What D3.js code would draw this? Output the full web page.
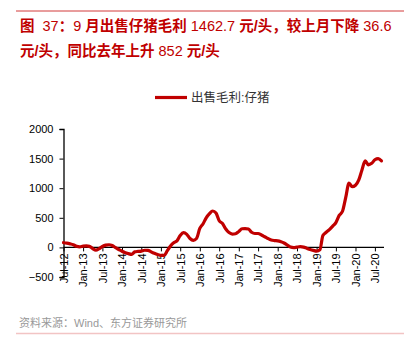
<!DOCTYPE html>
<html>
<head>
<meta charset="utf-8">
<script src="https://cdn.jsdelivr.net/npm/d3@7"></script>
<style>
  html, body { margin: 0; padding: 0; background: #fff; }
  svg { display: block; }
  .title { white-space: pre; }
</style>
</head>
<body>
<svg id="chart" width="411" height="350"></svg>
<script>
// Monthly gross profit per piglet sold (元/头), Jul-2012 .. Sep-2020
const startYear = 2012, startMonth = 6; // July (0-based)
const profit = [
  79, 72, 60, 45, 18, 10, 22, 25, 18, -20, -45, -20,
  15, 38, 45, 32, -5, -35, -65, -90, -105, -118, -75, -68,
  -62, -48, -50, -75, -100, -120, -135, -135, -60, 25, 80, 110,
  200, 250, 220, 150, 120, 150, 320, 400, 500, 570, 615, 580,
  450, 405, 310, 250, 225, 230, 270, 315, 318, 310, 255, 235,
  235, 210, 180, 150, 125, 115, 110, 95, 75, 40, 5, -5,
  5, 12, 5, -15, -35, -50, -62, -40, 200, 255, 300, 360,
  420, 540, 610.7, 840, 1085, 1025, 1050, 1140, 1305, 1460, 1395, 1420,
  1480, 1499.3, 1462.7
];
const yTicks = [-500, 0, 500, 1000, 1500, 2000];
const monthNames = ["Jan","Feb","Mar","Apr","May","Jun","Jul","Aug","Sep","Oct","Nov","Dec"];
const seriesName = "出售毛利:仔猪";
const titleLines = [
  "图  37：9 月出售仔猪毛利 1462.7 元/头，较上月下降 36.6",
  "元/头，同比去年上升 852 元/头"
];
const sourceText = "资料来源：Wind、东方证券研究所";

const dates = profit.map((_, i) => new Date(startYear, startMonth + i, 1));
const data = profit.map((v, i) => ({ date: dates[i], value: v }));

const svg = d3.select("#chart");
const red = "#c00000";
const fontLatin = "'Liberation Sans', Arial, 'Noto Sans CJK SC', sans-serif";
const fontCJK = "'Liberation Sans', 'Noto Sans CJK SC', sans-serif";

// Header rule and title (CJK runs bold, numeric runs regular)
svg.append("line").attr("x1", 16).attr("x2", 404).attr("y1", 11).attr("y2", 11)
  .attr("stroke", "#d23a3a").attr("stroke-width", 1);
svg.selectAll("text.title").data(titleLines).join("text")
  .attr("class", "title")
  .attr("x", 20).attr("y", (d, i) => 31 + i * 25)
  .attr("fill", red).attr("font-family", fontCJK)
  .attr("font-size", 14.5)
  .each(function (d) {
    const runs = d.match(/[0-9.\s]+|[^0-9.\s]+/g);
    d3.select(this).selectAll("tspan").data(runs).join("tspan")
      .attr("font-weight", r => /^[0-9.\s]+$/.test(r) ? "normal" : "bold")
      .text(r => r);
  });

// Scales
const x = d3.scaleTime()
  .domain([dates[0], dates[dates.length - 1]])
  .range([63.5, 381.5]);
const y = d3.scaleLinear().domain([-500, 2000]).range([277, 129]);

// Y axis
const yAxis = svg.append("g").attr("transform", "translate(63.5,0)")
  .call(d3.axisLeft(y).tickValues(yTicks).tickSize(4).tickPadding(6).tickFormat(d3.format("d")));
yAxis.select(".domain").attr("stroke", "#000").attr("stroke-width", 1.3);
yAxis.selectAll(".tick line").attr("stroke", "#000");
yAxis.selectAll(".tick text").attr("font-family", fontLatin).attr("font-size", 11).attr("fill", "#000");

// X axis at zero
const xTickDates = dates.filter(d => d.getMonth() === 0 || d.getMonth() === 6);
const xAxis = svg.append("g").attr("transform", `translate(0,${y(0)})`)
  .call(d3.axisBottom(x).tickValues(xTickDates).tickSize(4).tickSizeOuter(0)
    .tickFormat(d => monthNames[d.getMonth()] + "-" + String(d.getFullYear()).slice(2)));
xAxis.select(".domain").attr("stroke", "#000").attr("stroke-width", 1.3)
  .attr("d", `M63.5,0H384`);
xAxis.selectAll(".tick line").attr("stroke", "#000");
xAxis.selectAll(".tick text")
  .attr("font-family", fontLatin).attr("font-size", 11).attr("fill", "#000")
  .attr("text-anchor", "end")
  .attr("transform", "rotate(-90)")
  .attr("x", -6).attr("y", 0).attr("dy", "0.35em");

// Series line
const line = d3.line().x(d => x(d.date)).y(d => y(d.value)).curve(d3.curveMonotoneX);
svg.append("path").datum(data)
  .attr("d", line)
  .attr("fill", "none").attr("stroke", red).attr("stroke-width", 3.2)
  .attr("stroke-linejoin", "round").attr("stroke-linecap", "round");

// Legend
svg.append("line").attr("x1", 155).attr("x2", 187).attr("y1", 97.5).attr("y2", 97.5)
  .attr("stroke", red).attr("stroke-width", 3.2);
svg.append("text").attr("x", 191).attr("y", 102)
  .attr("font-family", fontCJK).attr("font-size", 12.5).attr("fill", "#333")
  .text(seriesName);

// Source note and bottom rule
svg.append("text").attr("x", 19).attr("y", 327)
  .attr("font-family", fontCJK).attr("font-size", 11).attr("fill", "#999")
  .text(sourceText);
svg.append("line").attr("x1", 16).attr("x2", 404).attr("y1", 333.5).attr("y2", 333.5)
  .attr("stroke", "#f2c4c4").attr("stroke-width", 1.5);
</script>
</body>
</html>
